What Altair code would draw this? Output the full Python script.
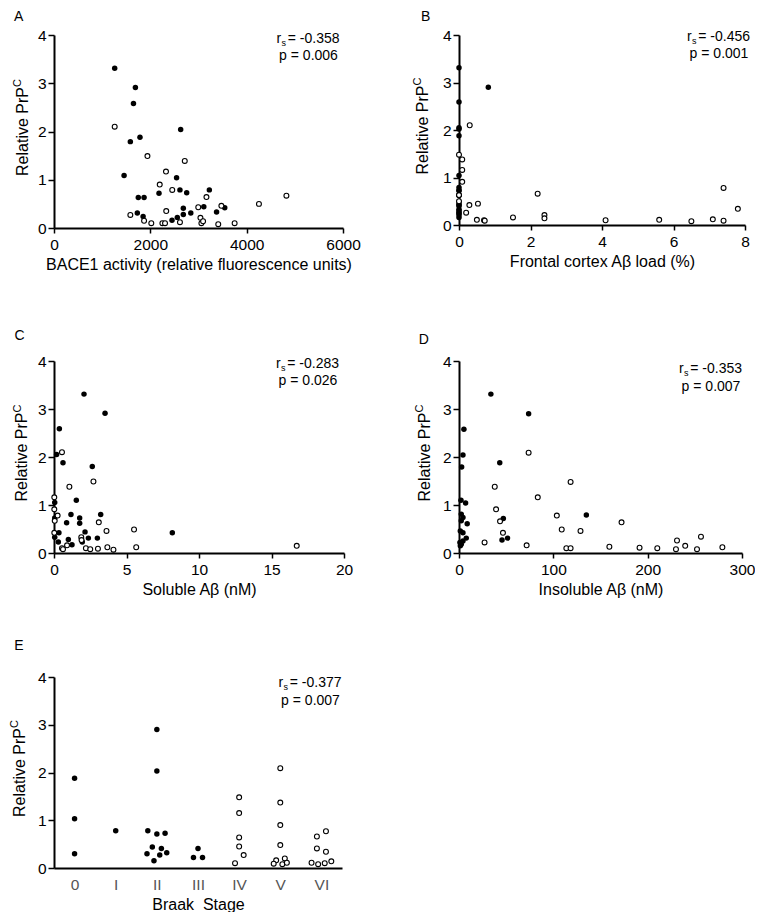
import altair as alt
import pandas as pd

FONT = "Liberation Sans"

# ---------------- data ----------------
# Panel A: BACE1 activity vs relative PrPC
A_filled_x = [1260, 1690, 1650, 1585, 1785, 2630, 1455, 2545, 1750, 1870, 2180, 2615,
              2755, 1730, 1850, 2685, 2685, 2560, 2450, 2840, 3225, 3110, 3375, 3545]
A_filled_y = [3.31, 2.91, 2.58, 1.79, 1.88, 2.04, 1.09, 1.04, 0.63, 0.63, 0.72, 0.79,
              0.73, 0.31, 0.24, 0.41, 0.28, 0.22, 0.16, 0.31, 0.79, 0.44, 0.33, 0.42]
A_open_x = [1260, 1940, 2715, 2325, 2195, 2455, 2330, 1585, 1870, 2020, 2250, 2305,
            2615, 2995, 3040, 3060, 3095, 3165, 3475, 3410, 3750, 4255, 4825]
A_open_y = [2.10, 1.49, 1.39, 1.17, 0.90, 0.79, 0.35, 0.27, 0.15, 0.10, 0.10, 0.10,
            0.12, 0.43, 0.21, 0.10, 0.14, 0.64, 0.46, 0.08, 0.10, 0.50, 0.67]

# Panel B: frontal cortex Abeta load (%)
B_filled_x = [0, 0, 0, 0, 0, 0, 0, 0, 0, 0, 0, 0, 0, 0, 0, 0, 0, 0, 0, 0, 0.82]
B_filled_y = [3.31, 2.59, 2.05, 2.02, 1.88, 1.04, 0.79, 0.73, 0.72, 0.63, 0.62, 0.45,
              0.42, 0.40, 0.33, 0.30, 0.27, 0.24, 0.21, 0.16, 2.90]
B_open_x = [0.30, 0.00, 0.09, 0.09, 0.09, 7.40, 2.20, 0.00, 0.00, 0.53, 0.29, 7.80,
            0.20, 2.39, 1.51, 2.39, 7.10, 5.60, 0.50, 0.70, 0.72, 4.10, 7.40, 6.50]
B_open_y = [2.10, 1.48, 1.38, 1.16, 0.91, 0.78, 0.66, 0.63, 0.50, 0.45, 0.42, 0.34,
            0.26, 0.21, 0.16, 0.14, 0.12, 0.11, 0.11, 0.10, 0.09, 0.10, 0.09, 0.08]

# Panel C: soluble Abeta (nM)
C_filled_x = [2.07, 3.52, 0.37, 0.18, 0.62, 2.64, 1.54, 0.05, 1.17, 3.22, 1.77, 1.77,
              0.87, 0.05, 2.14, 0.34, 0.05, 0.99, 2.37, 2.99, 0.30, 1.95, 1.24, 8.16]
C_filled_y = [3.31, 2.91, 2.59, 2.05, 1.88, 1.80, 1.10, 1.05, 0.80, 0.80, 0.73, 0.62,
              0.63, 0.73, 0.44, 0.42, 0.33, 0.28, 0.31, 0.31, 0.23, 0.23, 0.17, 0.42]
C_open_x = [0.55, 1.06, 2.72, 0.02, 0.02, 0.25, 0.05, 0.02, 3.09, 3.62, 5.52, 1.88,
            1.90, 0.90, 0.55, 0.62, 2.20, 2.50, 3.03, 3.68, 4.10, 5.67, 16.74]
C_open_y = [2.10, 1.38, 1.49, 1.16, 0.91, 0.78, 0.67, 0.42, 0.64, 0.46, 0.49, 0.33,
            0.27, 0.16, 0.10, 0.08, 0.10, 0.08, 0.09, 0.12, 0.07, 0.12, 0.15]

# Panel D: insoluble Abeta (nM)
D_filled_x = [33.8, 73.8, 5.2, 4.2, 2.8, 43.2, 2.1, 7.0, 47.0, 135.0, 8.7, 45.6,
              51.5, 7.7, 2.4, 4.2, 2.4, 1.4, 4.2, 2.4, 1.4, 4.2, 1.0]
D_filled_y = [3.31, 2.90, 2.58, 2.04, 1.79, 1.88, 1.10, 1.04, 0.72, 0.79, 0.61, 0.27,
              0.31, 0.31, 0.81, 0.74, 0.67, 0.46, 0.42, 0.18, 0.15, 0.25, 0.22]
D_open_x = [73.8, 118.3, 37.9, 83.5, 39.3, 103.7, 43.5, 46.6, 108.9, 128.8, 172.3, 27.1,
            71.7, 113.8, 118.3, 159.4, 191.4, 210.2, 231.1, 230.0, 239.8, 252.3, 256.5, 279.2]
D_open_y = [2.09, 1.48, 1.38, 1.16, 0.91, 0.78, 0.66, 0.42, 0.49, 0.46, 0.64, 0.22,
            0.16, 0.10, 0.10, 0.13, 0.11, 0.10, 0.26, 0.08, 0.15, 0.08, 0.34, 0.12]

# Panel E: Braak stage (stage index, small horizontal spread within stage, value)
STAGES = ["0", "I", "II", "III", "IV", "V", "VI"]
E_filled_stage = [0, 0, 0, 1, 2, 2, 2, 2, 2, 2, 2, 2, 2, 2, 2, 3, 3, 3]
E_filled_spread = [0, 0, 0, 0, 0, 0, -0.22, 0, 0.20, -0.11, 0.11, -0.24, 0.07, 0.24, -0.07,
                   0, -0.11, 0.11]
E_filled_y = [1.88, 1.03, 0.30, 0.78, 2.90, 2.03, 0.78, 0.71, 0.73, 0.44, 0.41, 0.30,
              0.27, 0.32, 0.15, 0.41, 0.22, 0.22]
E_open_stage = [4, 4, 4, 4, 4, 4, 5, 5, 5, 5, 5, 5, 5, 5, 5, 6, 6, 6, 6, 6, 6, 6, 6]
E_open_spread = [0, 0, 0, 0, 0.11, -0.10, 0, 0, 0, 0, -0.10, 0.11, -0.16, 0.05, 0.16,
                 -0.11, 0.11, -0.11, 0.11, -0.24, -0.08, 0.08, 0.24]
E_open_y = [1.48, 1.15, 0.64, 0.45, 0.27, 0.10, 2.09, 1.37, 0.90, 0.48, 0.16, 0.20, 0.09,
            0.08, 0.11, 0.66, 0.77, 0.41, 0.34, 0.11, 0.08, 0.10, 0.14]


def xy(xs, ys):
    return pd.DataFrame({"x": xs, "y": ys})


def txt(s, x, y, size, align="left", angle=None, color="black"):
    kw = dict(align=align, baseline="alphabetic", font=FONT, fontSize=size, color=color)
    if angle is not None:
        kw["angle"] = angle
    return alt.Chart(pd.DataFrame({"t": [s]})).mark_text(**kw).encode(
        text="t:N", x=alt.value(x), y=alt.value(y))


def panel(filled, opened, x_domain, x_ticks, x_title, W, H, letter, letter_pos,
          ytitle_x, r_val, p_val, cx, b1, b2, axis_kw=None):
    axis_kw = axis_kw or {}
    xs = alt.Scale(domain=x_domain, nice=False, zero=False)
    ys = alt.Scale(domain=[0, 4], nice=False)
    base_x = dict(values=x_ticks, title=x_title, labelFlush=False, format="d",
                  labelPadding=4.5, titlePadding=3)
    base_x.update(axis_kw)
    xa = alt.Axis(**base_x)
    ya = alt.Axis(values=[0, 1, 2, 3, 4], title=None, labelFlush=False, format="d",
                  tickSize=6, labelPadding=2)
    f = alt.Chart(filled).mark_circle(size=30, color="black", opacity=1).encode(
        x=alt.X("x:Q", scale=xs, axis=xa), y=alt.Y("y:Q", scale=ys, axis=ya))
    o = alt.Chart(opened).mark_circle(size=24, fill="white", stroke="black",
                                      strokeWidth=1.1, opacity=1).encode(
        x=alt.X("x:Q", scale=xs, axis=xa), y=alt.Y("y:Q", scale=ys, axis=ya))
    L = cx - 32
    layers = [
        f, o,
        txt(letter, letter_pos[0], letter_pos[1], 14),
        txt("Relative PrP", ytitle_x, H / 2, 16, "center", 270),
        txt("C", ytitle_x - 6.5, H / 2 - 48.5, 11, "center", 270),
        txt("r", L, b1, 14),
        txt("s", L + 5, b1 + 3, 9),
        txt("= " + r_val, L + 11.3, b1, 14),
        txt("p = " + p_val, cx, b2, 14, "center"),
    ]
    return alt.layer(*layers).properties(width=W, height=H)


pA = panel(xy(A_filled_x, A_filled_y), xy(A_open_x, A_open_y), [0, 6000], [0, 2000, 4000, 6000],
           "BACE1 activity (relative fluorescence units)", 289, 193, "A", (-40, -14),
           -26.3, "-0.358", "0.006", 254.5, 8, 25)
pB = panel(xy(B_filled_x, B_filled_y), xy(B_open_x, B_open_y), [0, 8], [0, 2, 4, 6, 8],
           "Frontal cortex A\u03b2 load (%)", 286, 190, "B", (-38, -14),
           -31.3, "-0.456", "0.001", 260, 6, 23)
pC = panel(xy(C_filled_x, C_filled_y), xy(C_open_x, C_open_y), [0, 20], [0, 5, 10, 15, 20],
           "Soluble A\u03b2 (nM)", 290, 192, "C", (-39.5, -21),
           -26.8, "-0.283", "0.026", 254, 7, 24)
pD = panel(xy(D_filled_x, D_filled_y), xy(D_open_x, D_open_y), [0, 300], [0, 100, 200, 300],
           "Insoluble A\u03b2 (nM)", 283, 192, "D", (-40.3, -16.6),
           -29.3, "-0.353", "0.007", 252, 12, 30)

E_f = pd.DataFrame({"x": [s + d for s, d in zip(E_filled_stage, E_filled_spread)], "y": E_filled_y})
E_o = pd.DataFrame({"x": [s + d for s, d in zip(E_open_stage, E_open_spread)], "y": E_open_y})
label_expr = "[" + ",".join("'%s'" % s for s in STAGES) + "][datum.value]"
pE = panel(E_f, E_o, [-0.5, 6.5], list(range(len(STAGES))), "Braak\u00a0\u00a0Stage", 288, 191, "E",
           (-39.7, -27), -29.3, "-0.377", "0.007", 256.5, 10, 28,
           axis_kw=dict(labelExpr=label_expr, ticks=False, labelPadding=9.5, labelColor="#555555"))

row1 = alt.hconcat(pA, pB, spacing=51)
row2 = alt.hconcat(pC, pD, spacing=61)
row3 = alt.hconcat(pE)

chart = alt.vconcat(row1, alt.vconcat(row2, row3, spacing=42), spacing=57).properties(
    padding={"left": 1, "top": 2, "right": 0, "bottom": 0}
).configure_view(stroke=None).configure_axis(
    domainColor="black", domainWidth=2, tickColor="black", tickWidth=1.5, tickSize=5,
    labelFont=FONT, labelFontSize=15.5, labelColor="black", labelPadding=3,
    titleFont=FONT, titleFontSize=16, titleFontWeight="normal", titleColor="black",
    titlePadding=3, grid=False, labelOverlap=False
)

chart.save("out.html", embed_options={"renderer": "svg", "actions": False})
